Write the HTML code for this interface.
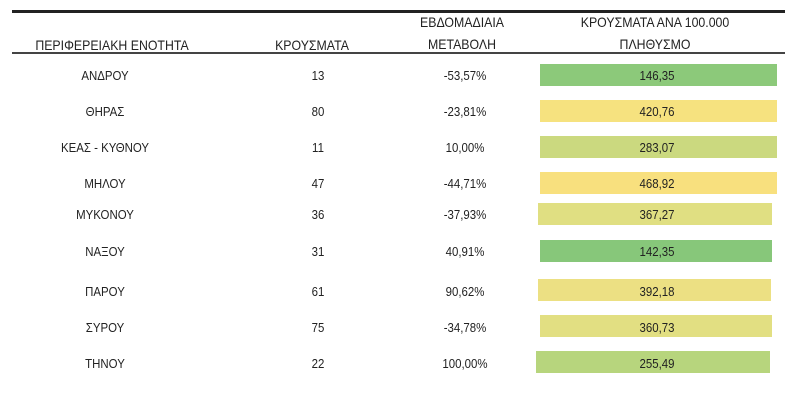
<!DOCTYPE html>
<html><head><meta charset="utf-8"><style>
body{margin:0;width:800px;height:410px;background:#fff;font-family:"Liberation Sans",sans-serif;color:#222;position:relative;overflow:hidden}
.t{position:absolute;transform:translateX(-50%) scaleX(0.88);white-space:nowrap;font-size:13px;text-align:center;line-height:17px}
.h{font-size:14px;line-height:22px}
.b{position:absolute;height:22px}
</style></head><body>
<div style="position:absolute;left:12px;top:10px;width:773px;height:3px;background:#222"></div>
<div style="position:absolute;left:12px;top:52px;width:773px;height:2px;background:#444"></div>
<div class="t h" style="left:112px;top:34px">ΠΕΡΙΦΕΡΕΙΑΚΗ ΕΝΟΤΗΤΑ</div>
<div class="t h" style="left:312px;top:34px">ΚΡΟΥΣΜΑΤΑ</div>
<div class="t h" style="left:462px;top:11px">ΕΒΔΟΜΑΔΙΑΙΑ<br>ΜΕΤΑΒΟΛΗ</div>
<div class="t h" style="left:655px;top:11px">ΚΡΟΥΣΜΑΤΑ ΑΝΑ 100.000<br>ΠΛΗΘΥΣΜΟ</div>

<div class="b" style="left:540px;top:64px;width:237px;background:#8cc97a"></div>
<div class="b" style="left:540px;top:100px;width:237px;background:#f6e27f"></div>
<div class="b" style="left:540px;top:136px;width:237px;background:#cbd97f"></div>
<div class="b" style="left:540px;top:172px;width:237px;background:#f8e07e"></div>
<div class="b" style="left:538px;top:203px;width:234px;background:#e0df82"></div>
<div class="b" style="left:540px;top:240px;width:232px;background:#87c77a"></div>
<div class="b" style="left:538px;top:279px;width:233px;background:#ece083"></div>
<div class="b" style="left:540px;top:315px;width:232px;background:#e2df82"></div>
<div class="b" style="left:536px;top:351px;width:234px;background:#b7d57d"></div>

<div class="t" style="left:105px;top:67px">ΑΝΔΡΟΥ</div><div class="t" style="left:318px;top:67px">13</div><div class="t" style="left:465px;top:67px">-53,57%</div><div class="t" style="left:657px;top:67px">146,35</div>
<div class="t" style="left:105px;top:103px">ΘΗΡΑΣ</div><div class="t" style="left:318px;top:103px">80</div><div class="t" style="left:465px;top:103px">-23,81%</div><div class="t" style="left:657px;top:103px">420,76</div>
<div class="t" style="left:105px;top:139px">ΚΕΑΣ - ΚΥΘΝΟΥ</div><div class="t" style="left:318px;top:139px">11</div><div class="t" style="left:465px;top:139px">10,00%</div><div class="t" style="left:657px;top:139px">283,07</div>
<div class="t" style="left:105px;top:175px">ΜΗΛΟΥ</div><div class="t" style="left:318px;top:175px">47</div><div class="t" style="left:465px;top:175px">-44,71%</div><div class="t" style="left:657px;top:175px">468,92</div>
<div class="t" style="left:105px;top:206px">ΜΥΚΟΝΟΥ</div><div class="t" style="left:318px;top:206px">36</div><div class="t" style="left:465px;top:206px">-37,93%</div><div class="t" style="left:657px;top:206px">367,27</div>
<div class="t" style="left:105px;top:243px">ΝΑΞΟΥ</div><div class="t" style="left:318px;top:243px">31</div><div class="t" style="left:465px;top:243px">40,91%</div><div class="t" style="left:657px;top:243px">142,35</div>
<div class="t" style="left:105px;top:283px">ΠΑΡΟΥ</div><div class="t" style="left:318px;top:283px">61</div><div class="t" style="left:465px;top:283px">90,62%</div><div class="t" style="left:657px;top:283px">392,18</div>
<div class="t" style="left:105px;top:319px">ΣΥΡΟΥ</div><div class="t" style="left:318px;top:319px">75</div><div class="t" style="left:465px;top:319px">-34,78%</div><div class="t" style="left:657px;top:319px">360,73</div>
<div class="t" style="left:105px;top:355px">ΤΗΝΟΥ</div><div class="t" style="left:318px;top:355px">22</div><div class="t" style="left:465px;top:355px">100,00%</div><div class="t" style="left:657px;top:355px">255,49</div>
</body></html>
